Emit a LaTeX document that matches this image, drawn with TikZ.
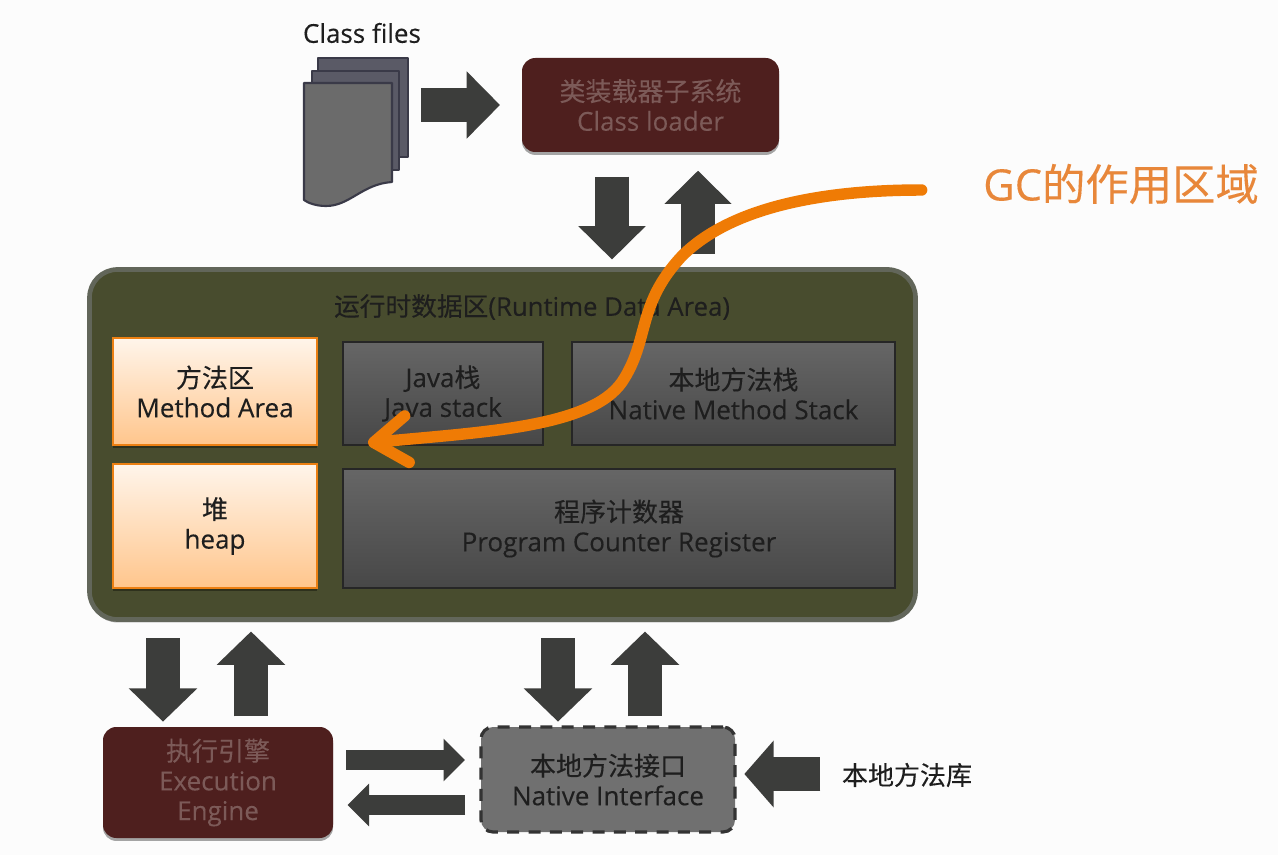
\documentclass[tikz,border=0pt]{standalone}
\usepackage{fontspec}
\setmainfont{Open Sans}[FakeBold=0.25]
\newfontfamily\cjk{Noto Sans CJK SC}[FakeBold=0.2]
\usetikzlibrary{arrows.meta,fit,shadows,calc}
\definecolor{arrowgrey}{HTML}{3C3D3B}
\definecolor{wine}{HTML}{4E1F1E}
\definecolor{winetext}{HTML}{7C5A58}
\definecolor{olive}{HTML}{484C2E}
\definecolor{oliveedge}{HTML}{62665A}
\definecolor{gcorange}{HTML}{EF7B05}
\definecolor{gclabel}{HTML}{E8873A}
\definecolor{pageedge}{HTML}{3A3A48}
\definecolor{pagefill}{HTML}{5A5A66}
\definecolor{inktext}{HTML}{1E1E1E}
\tikzset{
  pxsize/.style 2 args={minimum width=#1*0.75pt,minimum height=#2*0.75pt,outer sep=0pt},
  softshadow/.style={drop shadow={shadow xshift=0pt,shadow yshift=-2.2pt,opacity=.35,fill=black}},
  box/.style={inner sep=0pt,align=center,font=\fontsize{19.5}{22.3}\selectfont,text=inktext},
  winebox/.style={box,rounded corners=10pt,fill=wine,softshadow,text=winetext},
  greybox/.style={box,draw=black!85,line width=1.5pt,top color=black!60,bottom color=black!72},
  orangebox/.style={box,draw=orange!70!brown,line width=1.2pt,top color=orange!8,bottom color=orange!45,softshadow},
  areabox/.style={box,rounded corners=21pt,fill=olive,draw=oliveedge,line width=3.5pt,softshadow},
  ifacebox/.style={box,rounded corners=9pt,fill=black!56,draw=black!80,line width=2.4pt,dash pattern=on 9pt off 7pt},
  page/.style={draw=pageedge,line width=1.6pt,fill=pagefill,line join=round},
  frontpage/.style={page,fill=black!58},
  blockL/.style={arrowgrey,line width=25pt,-{Triangle[length=25pt,width=49pt]}},
  blockV/.style={arrowgrey,line width=25pt,-{Triangle[length=25pt,width=50pt]}},
  blockT/.style={arrowgrey,line width=15pt,-{Triangle[length=16pt,width=31pt]}},
  blockN/.style={arrowgrey,line width=25pt,-{Triangle[length=22pt,width=49pt]}},
  plain/.style={inner sep=0pt,text=inktext},
  gccurve/.style={gcorange,line width=8.6pt,line cap=round,
    -{Straight Barb[length=25pt,width=35pt,line width=8.6pt,round]}}
}
\begin{document}
\begin{tikzpicture}[x=0.75pt,y=-0.75pt]
\useasboundingbox (0,0) rectangle (1278,855);
\fill[white!99!black] (0,0) rectangle (1278,855);

% stack of class files
\node[plain,font=\fontsize{19.5}{22}\selectfont] (classlabel) at (362,33) {Class files};
\draw[page] (318,58) -- (408,58) -- (408,157) -- (318,157) -- cycle;
\draw[page] (312,71) -- (399,71) -- (399,170) -- (312,170) -- cycle;
\draw[frontpage] (304,83) -- (392,83) -- (392,182)
  .. controls (362,184) and (350,206) .. (326,206)
  .. controls (316,206) and (308,203) .. (304,200) -- cycle;
\node[fit={(304,57)(408,206)},inner sep=0pt] (stack) {};

% loader, execution engine, native interface
\node[winebox,pxsize={257}{94}] (loader) at (650.5,105) {{\cjk 类装载器子系统}\\Class loader};
\node[winebox,pxsize={230}{111}] (engine) at (218,782.5) {{\cjk 执行引擎}\\Execution\\Engine};
\node[ifacebox,pxsize={254}{105}] (native) at (608,779.5) {{\cjk 本地方法接口}\\Native Interface};
\node[plain,font=\cjk\fontsize{19.5}{22}\selectfont] (nativelib) at (907,775) {本地方法库};

% runtime data area and its regions
\node[areabox,pxsize={826}{350}] (rda) at (502.5,444.5) {};
\node[plain,font=\fontsize{19.3}{22}\selectfont] (rdatitle) at (532,307) {{\cjk 运行时数据区}(Runtime Data Area)};
\node[orangebox,pxsize={204}{107}] (method) at (215,391.5) {{\cjk 方法区}\\Method Area};
\node[orangebox,pxsize={204}{124}] (heap) at (215,526) {{\cjk 堆}\\heap};
\node[greybox,pxsize={200}{103}] (jstack) at (443,393.5) {Java{\cjk 栈}\\Java stack};
\node[greybox,pxsize={323}{103}] (nstack) at (733.5,393.5) {{\cjk 本地方法栈}\\Native Method Stack};
\node[greybox,pxsize={552}{119}] (pc) at (619,528.5) {{\cjk 程序计数器}\\Program Counter Register};

% columns and rows used by the block arrows
\coordinate (c1) at (612,0);
\coordinate (c2) at (698,0);
\coordinate (c3) at (163,0);
\coordinate (c4) at (251,0);
\coordinate (c5) at (558,0);
\coordinate (c6) at (645,0);
\coordinate (r1) at (0,105);
\coordinate (r2) at (0,760);
\coordinate (r3) at (0,805);
\coordinate (r4) at (0,774);

\draw[blockL,shorten <=9.5pt,shorten >=16.5pt] (stack.east |- r1) -- (loader.west |- r1);
\draw[blockL,shorten <=18.5pt,shorten >=7.5pt] (c1 |- loader.south) -- (c1 |- rda.north);
\draw[blockL,shorten <=11.5pt,shorten >=14pt] (c2 |- rda.north) -- (c2 |- loader.south);
\draw[blockV,shorten <=14pt,shorten >=4pt] (c3 |- rda.south) -- (c3 |- engine.north);
\draw[blockV,shorten <=8pt,shorten >=9pt] (c4 |- engine.north) -- (c4 |- rda.south);
\draw[blockV,shorten <=14pt,shorten >=4pt] (c5 |- rda.south) -- (c5 |- native.north);
\draw[blockV,shorten <=8pt,shorten >=9pt] (c6 |- native.north) -- (c6 |- rda.south);
\draw[blockT,shorten <=10pt,shorten >=12pt] (engine.east |- r2) -- (native.west |- r2);
\draw[blockT,shorten <=12pt,shorten >=11pt] (native.west |- r3) -- (engine.east |- r3);
\draw[blockN,shorten <=16pt,shorten >=7pt] (nativelib.west |- r4) -- (native.east |- r4);

% scope of garbage collection
\node[plain,text=gclabel,font=\fontsize{32.5}{36}\selectfont] (gc) at (1121,184) {GC{\cjk 的作用区域}};
\coordinate (gcstart) at (gc.west |- 0,190);
\coordinate (gctarget) at (368,443);
\draw[gccurve,shorten <=46pt] (gcstart)
  .. controls (820,190) and (730,208) .. (682,256)
  .. controls (636,305) and (650,340) .. (622,382)
  .. controls (590,428) and (480,432) .. (gctarget);
\end{tikzpicture}
\end{document}
